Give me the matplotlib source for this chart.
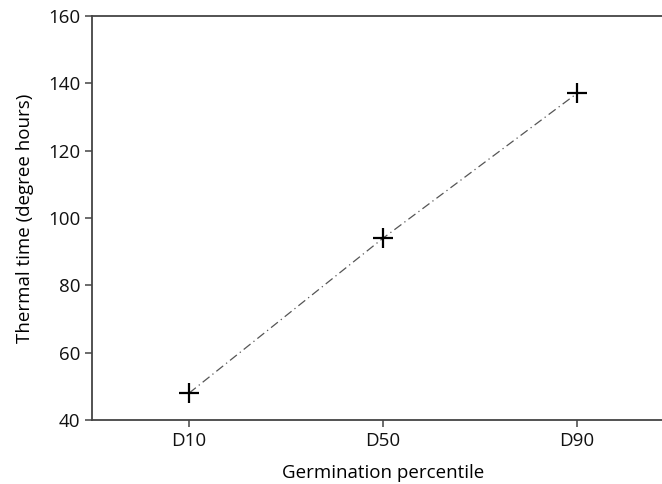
import matplotlib
matplotlib.use('Agg')
import matplotlib.pyplot as plt

categories = ['D10', 'D50', 'D90']
thermal_time = [48, 94, 137]

plt.rcParams['font.family'] = ['Open Sans', 'DejaVu Sans']

fig = plt.figure(figsize=(6.62, 4.84), dpi=100)
ax = fig.add_axes([0.139, 0.132, 0.879, 0.835])

xs = range(len(categories))
ax.plot(xs, thermal_time, color='#555555', lw=0.9, dashes=(7, 3, 1, 3),
        marker='+', markersize=14, markeredgewidth=1.6,
        markeredgecolor='black', markerfacecolor='black')

ax.set_xlim(-0.5, 2.5)
ax.set_ylim(40, 160)
ax.set_yticks(range(40, 161, 20))
ax.set_xticks(list(xs))
ax.set_xticklabels(categories)

for s in ax.spines.values():
    s.set_color('#444444')
    s.set_linewidth(1.3)
ax.tick_params(colors='#444444', labelcolor='#111111', labelsize=13.5,
               length=5, width=1.1)

ax.set_xlabel('Germination percentile', fontsize=13.5, labelpad=10)
ax.set_ylabel('Thermal time (degree hours)', fontsize=13.5, labelpad=10)

fig.savefig('out.png', dpi=100)
